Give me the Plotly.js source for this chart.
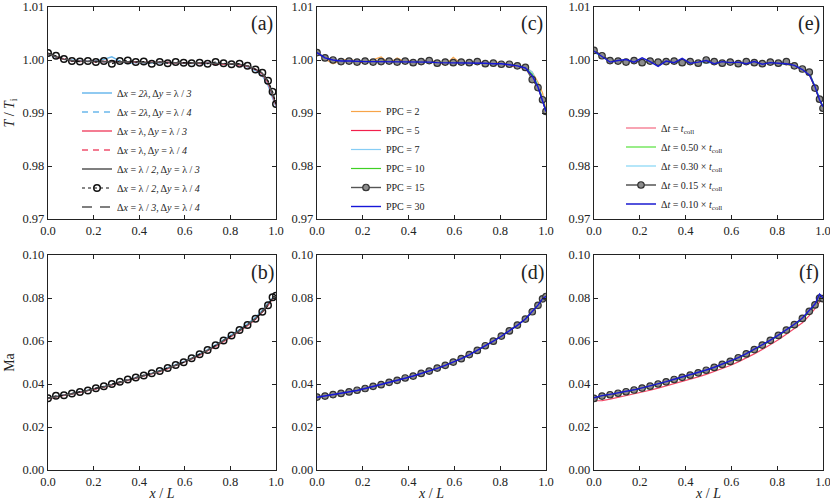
<!DOCTYPE html>
<html>
<head>
<meta charset="utf-8">
<script src="https://cdn.plot.ly/plotly-3.0.1.min.js"></script>
<style>
  html, body { margin: 0; padding: 0; background: #fff; }
  #chart { width: 830px; height: 501px; }
</style>
</head>
<body>
<div id="chart"></div>
<script>
// sample positions along the channel, x / L
const xPos = [0, 0.035, 0.07, 0.105, 0.14, 0.175, 0.21, 0.245, 0.28, 0.315, 0.35, 0.385, 0.42, 0.455, 0.49,
  0.525, 0.56, 0.595, 0.63, 0.665, 0.70, 0.735, 0.77, 0.805, 0.84, 0.875, 0.91, 0.94, 0.965, 0.985, 1.0];

// (a) T / Ti, grid resolution
const tA_2l_3 = [1.0011, 1.0005, 1.0001, 1.0000, 0.9999, 0.9998, 0.9999, 1.0001, 1.0006, 0.9998, 0.9993, 0.9995, 0.9994, 0.9994, 0.9996, 0.9994, 0.9994, 0.9995, 0.9993, 0.9993, 0.9995, 0.9993, 0.9992, 0.9992, 0.9991, 0.9987, 0.9980, 0.9970, 0.9952, 0.9928, 0.9912];
const tA_2l_4 = [1.0010, 1.0006, 1.0001, 0.9998, 0.9999, 0.9997, 0.9998, 0.9996, 0.9999, 0.9997, 0.9995, 0.9997, 0.9995, 0.9996, 0.9994, 0.9996, 0.9995, 0.9993, 0.9995, 0.9994, 0.9992, 0.9994, 0.9993, 0.9991, 0.9992, 0.9988, 0.9981, 0.9972, 0.9955, 0.9930, 0.9913];
const tA_l_3 = [1.0012, 1.0006, 1.0002, 0.9999, 0.9998, 0.9998, 0.9997, 0.9998, 0.9997, 0.9997, 0.9996, 0.9997, 0.9995, 0.9996, 0.9995, 0.9996, 0.9994, 0.9995, 0.9994, 0.9993, 0.9994, 0.9993, 0.9992, 0.9993, 0.9991, 0.9988, 0.9982, 0.9973, 0.9957, 0.9932, 0.9914];
const tA_l_4 = [1.0012, 1.0005, 1.0001, 0.9998, 0.9997, 0.9998, 0.9996, 0.9997, 0.9998, 0.9996, 0.9997, 0.9995, 0.9996, 0.9995, 0.9996, 0.9994, 0.9995, 0.9994, 0.9995, 0.9993, 0.9994, 0.9992, 0.9993, 0.9992, 0.9991, 0.9989, 0.9983, 0.9974, 0.9958, 0.9934, 0.9916];
const tA_h_3 = [1.0012, 1.0006, 1.0001, 0.9999, 0.9998, 0.9997, 0.9998, 0.9997, 0.9997, 0.9996, 0.9997, 0.9996, 0.9996, 0.9995, 0.9996, 0.9995, 0.9995, 0.9994, 0.9995, 0.9994, 0.9994, 0.9993, 0.9993, 0.9993, 0.9992, 0.9989, 0.9983, 0.9975, 0.9960, 0.9936, 0.9916];
const tA_h_4 = [1.0013, 1.0008, 1.0002, 0.9998, 0.9997, 0.9998, 0.9996, 0.9998, 0.9993, 0.9998, 0.9999, 0.9996, 0.9997, 0.9993, 0.9996, 0.9994, 0.9996, 0.9995, 0.9994, 0.9995, 0.9993, 0.9996, 0.9994, 0.9992, 0.9993, 0.9989, 0.9982, 0.9976, 0.9961, 0.9940, 0.9917];
const tA_t_4 = [1.0012, 1.0006, 1.0002, 0.9999, 0.9998, 0.9997, 0.9997, 0.9997, 0.9996, 0.9997, 0.9996, 0.9996, 0.9995, 0.9996, 0.9995, 0.9995, 0.9995, 0.9994, 0.9994, 0.9995, 0.9993, 0.9994, 0.9993, 0.9992, 0.9992, 0.9989, 0.9984, 0.9975, 0.9959, 0.9935, 0.9915];

// (b) Ma, grid resolution
const mB_2l_3 = [0.0334, 0.0343, 0.0349, 0.0355, 0.0362, 0.0370, 0.0379, 0.0388, 0.0398, 0.0408, 0.0419, 0.0428, 0.0438, 0.0450, 0.0462, 0.0475, 0.0489, 0.0504, 0.0521, 0.0540, 0.0560, 0.0582, 0.0605, 0.0628, 0.0653, 0.0680, 0.0710, 0.0743, 0.0773, 0.0801, 0.0809];
const mB_2l_4 = [0.0333, 0.0342, 0.0349, 0.0355, 0.0362, 0.0370, 0.0379, 0.0388, 0.0398, 0.0408, 0.0419, 0.0428, 0.0437, 0.0449, 0.0461, 0.0474, 0.0488, 0.0503, 0.0520, 0.0538, 0.0558, 0.0580, 0.0603, 0.0626, 0.0651, 0.0677, 0.0707, 0.0741, 0.0771, 0.0800, 0.0809];
const mB_l_3 = [0.0332, 0.0341, 0.0347, 0.0353, 0.0360, 0.0368, 0.0377, 0.0386, 0.0396, 0.0406, 0.0416, 0.0426, 0.0435, 0.0446, 0.0458, 0.0471, 0.0485, 0.0499, 0.0516, 0.0534, 0.0553, 0.0575, 0.0597, 0.0620, 0.0645, 0.0671, 0.0700, 0.0734, 0.0765, 0.0796, 0.0807];
const mB_l_4 = [0.0332, 0.0341, 0.0348, 0.0354, 0.0361, 0.0368, 0.0377, 0.0386, 0.0396, 0.0406, 0.0417, 0.0426, 0.0436, 0.0447, 0.0459, 0.0472, 0.0486, 0.0500, 0.0517, 0.0535, 0.0555, 0.0577, 0.0599, 0.0622, 0.0647, 0.0673, 0.0702, 0.0736, 0.0767, 0.0797, 0.0808];
const mB_h_3 = [0.0333, 0.0342, 0.0348, 0.0354, 0.0361, 0.0369, 0.0378, 0.0387, 0.0397, 0.0407, 0.0418, 0.0427, 0.0436, 0.0448, 0.0460, 0.0473, 0.0487, 0.0501, 0.0518, 0.0536, 0.0556, 0.0578, 0.0600, 0.0623, 0.0648, 0.0674, 0.0703, 0.0737, 0.0768, 0.0798, 0.0808];
const mB_h_4 = [0.0334, 0.0345, 0.0348, 0.0356, 0.0363, 0.0370, 0.0380, 0.0389, 0.0400, 0.0410, 0.0421, 0.0430, 0.0440, 0.0450, 0.0461, 0.0475, 0.0488, 0.0501, 0.0520, 0.0538, 0.0558, 0.0580, 0.0602, 0.0626, 0.0651, 0.0675, 0.0703, 0.0736, 0.0766, 0.0803, 0.0810];
const mB_t_4 = [0.0333, 0.0342, 0.0348, 0.0354, 0.0361, 0.0369, 0.0378, 0.0387, 0.0397, 0.0407, 0.0418, 0.0427, 0.0437, 0.0448, 0.0460, 0.0473, 0.0487, 0.0502, 0.0519, 0.0537, 0.0557, 0.0579, 0.0601, 0.0624, 0.0649, 0.0675, 0.0704, 0.0738, 0.0769, 0.0799, 0.0808];

// (c) T / Ti by particles per cell
const tC_2 = [1.0013, 1.0002, 0.9993, 0.9999, 1.0002, 0.9997, 0.9995, 1.0001, 1.0006, 0.9994, 1.0004, 0.9996, 0.9998, 0.9992, 0.9999, 0.9997, 0.9990, 1.0005, 0.9993, 0.9997, 0.9996, 0.9992, 0.9997, 0.9994, 0.9993, 0.9990, 0.9987, 0.9977, 0.9958, 0.9938, 0.9906];
const tC_5 = [1.0014, 1.0003, 0.9998, 0.9997, 1.0000, 0.9996, 0.9995, 0.9999, 0.9996, 0.9998, 0.9995, 1.0000, 0.9996, 0.9997, 1.0000, 0.9993, 0.9996, 0.9995, 0.9997, 0.9993, 0.9995, 0.9996, 0.9992, 0.9993, 0.9989, 0.9988, 0.9983, 0.9970, 0.9949, 0.9925, 0.9903];
const tC_7 = [1.0013, 1.0004, 0.9999, 0.9998, 0.9997, 0.9999, 0.9997, 0.9996, 0.9998, 0.9997, 0.9997, 0.9995, 0.9997, 0.9996, 0.9995, 0.9996, 0.9994, 0.9996, 0.9995, 0.9994, 0.9995, 0.9992, 0.9994, 0.9993, 0.9992, 0.9990, 0.9987, 0.9977, 0.9953, 0.9928, 0.9904];
const tC_10 = [1.0014, 1.0004, 1.0000, 0.9998, 0.9998, 0.9997, 0.9998, 0.9997, 0.9997, 0.9998, 0.9996, 0.9997, 0.9996, 0.9996, 0.9996, 0.9995, 0.9996, 0.9995, 0.9995, 0.9995, 0.9994, 0.9995, 0.9993, 0.9993, 0.9992, 0.9990, 0.9985, 0.9973, 0.9951, 0.9927, 0.9903];
const tC_15 = [1.0014, 1.0004, 1.0000, 0.9997, 0.9998, 0.9996, 0.9998, 0.9996, 0.9997, 0.9998, 0.9996, 0.9998, 0.9995, 0.9997, 0.9999, 0.9994, 0.9996, 0.9995, 0.9996, 0.9995, 0.9997, 0.9993, 0.9994, 0.9992, 0.9992, 0.9989, 0.9986, 0.9963, 0.9948, 0.9925, 0.9903];
const tC_30 = [1.0014, 1.0004, 1.0000, 0.9998, 0.9998, 0.9997, 0.9997, 0.9997, 0.9997, 0.9997, 0.9996, 0.9996, 0.9996, 0.9996, 0.9996, 0.9995, 0.9995, 0.9995, 0.9995, 0.9995, 0.9994, 0.9994, 0.9993, 0.9993, 0.9991, 0.9989, 0.9985, 0.9970, 0.9949, 0.9924, 0.9903];

// (d) Ma by particles per cell
const mD_2 = [0.0339, 0.0346, 0.0351, 0.0357, 0.0362, 0.0372, 0.0379, 0.0389, 0.0398, 0.0406, 0.0419, 0.0428, 0.0436, 0.0449, 0.0461, 0.0472, 0.0488, 0.0503, 0.0517, 0.0537, 0.0558, 0.0576, 0.0600, 0.0624, 0.0646, 0.0675, 0.0704, 0.0736, 0.0768, 0.0797, 0.0808];
const mD_5 = [0.0338, 0.0344, 0.0351, 0.0356, 0.0364, 0.0370, 0.0380, 0.0388, 0.0398, 0.0407, 0.0418, 0.0427, 0.0438, 0.0448, 0.0461, 0.0473, 0.0488, 0.0501, 0.0519, 0.0536, 0.0557, 0.0577, 0.0600, 0.0622, 0.0648, 0.0673, 0.0703, 0.0735, 0.0767, 0.0795, 0.0806];
const mD_7 = [0.0338, 0.0345, 0.0350, 0.0357, 0.0363, 0.0371, 0.0379, 0.0388, 0.0397, 0.0408, 0.0417, 0.0428, 0.0437, 0.0449, 0.0460, 0.0474, 0.0487, 0.0502, 0.0518, 0.0537, 0.0556, 0.0578, 0.0599, 0.0623, 0.0647, 0.0674, 0.0702, 0.0736, 0.0766, 0.0796, 0.0806];
const mD_10 = [0.0338, 0.0344, 0.0350, 0.0356, 0.0363, 0.0370, 0.0379, 0.0388, 0.0397, 0.0407, 0.0417, 0.0427, 0.0437, 0.0448, 0.0460, 0.0473, 0.0487, 0.0501, 0.0518, 0.0536, 0.0556, 0.0577, 0.0599, 0.0622, 0.0647, 0.0673, 0.0702, 0.0735, 0.0766, 0.0795, 0.0806];
const mD_15 = [0.0339, 0.0344, 0.0351, 0.0356, 0.0363, 0.0371, 0.0379, 0.0389, 0.0397, 0.0408, 0.0417, 0.0428, 0.0437, 0.0449, 0.0460, 0.0474, 0.0487, 0.0502, 0.0518, 0.0537, 0.0556, 0.0578, 0.0599, 0.0623, 0.0647, 0.0674, 0.0702, 0.0736, 0.0766, 0.0796, 0.0807];
const mD_30 = [0.0338, 0.0344, 0.0350, 0.0356, 0.0363, 0.0370, 0.0379, 0.0388, 0.0397, 0.0407, 0.0417, 0.0427, 0.0437, 0.0448, 0.0460, 0.0473, 0.0487, 0.0501, 0.0518, 0.0536, 0.0556, 0.0577, 0.0599, 0.0622, 0.0647, 0.0673, 0.0702, 0.0736, 0.0767, 0.0797, 0.0808];

// (e) T / Ti by time step
const tE_100 = [1.0016, 1.0006, 1.0000, 0.9997, 0.9998, 0.9997, 0.9997, 0.9997, 0.9996, 0.9997, 0.9996, 0.9996, 0.9995, 0.9996, 0.9995, 0.9995, 0.9995, 0.9995, 0.9995, 0.9994, 0.9994, 0.9994, 0.9993, 0.9993, 0.9992, 0.9988, 0.9982, 0.9973, 0.9948, 0.9926, 0.9910];
const tE_050 = [1.0016, 1.0005, 1.0000, 0.9998, 0.9997, 0.9998, 0.9997, 0.9996, 0.9997, 0.9996, 0.9996, 0.9995, 0.9996, 0.9995, 0.9996, 0.9995, 0.9994, 0.9995, 0.9994, 0.9995, 0.9994, 0.9993, 0.9994, 0.9993, 0.9992, 0.9989, 0.9983, 0.9975, 0.9949, 0.9927, 0.9911];
const tE_030 = [1.0015, 1.0006, 0.9999, 0.9997, 0.9999, 0.9997, 0.9998, 0.9996, 0.9996, 0.9997, 0.9995, 0.9997, 0.9995, 0.9996, 0.9994, 0.9996, 0.9995, 0.9994, 0.9995, 0.9994, 0.9993, 0.9995, 0.9993, 0.9992, 0.9993, 0.9990, 0.9984, 0.9976, 0.9951, 0.9929, 0.9911];
const tE_015 = [1.0018, 1.0008, 0.9999, 0.9998, 0.9996, 0.9999, 0.9995, 0.9998, 0.9996, 0.9997, 0.9998, 0.9995, 0.9997, 0.9994, 1.0000, 0.9997, 0.9994, 0.9996, 0.9993, 0.9997, 0.9995, 0.9993, 0.9996, 0.9994, 0.9997, 0.9989, 0.9983, 0.9977, 0.9947, 0.9926, 0.9909];
const tE_010 = [1.0017, 1.0006, 0.9996, 0.9999, 1.0001, 0.9996, 1.0004, 0.9997, 0.9988, 0.9998, 0.9995, 1.0003, 0.9994, 0.9996, 0.9999, 0.9993, 0.9997, 0.9995, 0.9996, 0.9993, 0.9997, 0.9992, 0.9995, 0.9994, 0.9993, 0.9990, 0.9982, 0.9972, 0.9950, 0.9925, 0.9912];

// (f) Ma by time step
const mF_100 = [0.0322, 0.0323, 0.0330, 0.0338, 0.0345, 0.0353, 0.0362, 0.0371, 0.0381, 0.0391, 0.0402, 0.0412, 0.0422, 0.0433, 0.0445, 0.0458, 0.0472, 0.0486, 0.0503, 0.0521, 0.0540, 0.0561, 0.0583, 0.0606, 0.0631, 0.0656, 0.0685, 0.0718, 0.0750, 0.0782, 0.0790];
const mF_050 = [0.0334, 0.0342, 0.0348, 0.0354, 0.0361, 0.0369, 0.0378, 0.0387, 0.0397, 0.0407, 0.0418, 0.0428, 0.0438, 0.0449, 0.0461, 0.0474, 0.0488, 0.0502, 0.0519, 0.0537, 0.0557, 0.0578, 0.0600, 0.0623, 0.0648, 0.0673, 0.0702, 0.0735, 0.0766, 0.0800, 0.0798];
const mF_030 = [0.0335, 0.0345, 0.0351, 0.0357, 0.0364, 0.0372, 0.0381, 0.0390, 0.0400, 0.0410, 0.0421, 0.0431, 0.0441, 0.0452, 0.0464, 0.0477, 0.0491, 0.0505, 0.0522, 0.0540, 0.0560, 0.0581, 0.0603, 0.0626, 0.0651, 0.0677, 0.0706, 0.0740, 0.0771, 0.0812, 0.0803];
const mF_015 = [0.0333, 0.0344, 0.0350, 0.0357, 0.0364, 0.0372, 0.0381, 0.0390, 0.0400, 0.0410, 0.0421, 0.0431, 0.0441, 0.0452, 0.0464, 0.0477, 0.0491, 0.0505, 0.0522, 0.0540, 0.0560, 0.0581, 0.0603, 0.0626, 0.0651, 0.0676, 0.0705, 0.0738, 0.0768, 0.0800, 0.0797];
const mF_010 = [0.0336, 0.0346, 0.0352, 0.0358, 0.0365, 0.0373, 0.0382, 0.0391, 0.0401, 0.0411, 0.0422, 0.0432, 0.0442, 0.0453, 0.0465, 0.0478, 0.0492, 0.0506, 0.0523, 0.0541, 0.0561, 0.0582, 0.0604, 0.0627, 0.0652, 0.0678, 0.0707, 0.0741, 0.0772, 0.0818, 0.0800];

const namesA = [
  'Δ<i>x</i> = <i>2λ</i>, Δ<i>y</i> = λ / <i>3</i>',
  'Δ<i>x</i> = <i>2λ</i>, Δ<i>y</i> = λ / <i>4</i>',
  'Δ<i>x</i> = λ, Δ<i>y</i> = λ / <i>3</i>',
  'Δ<i>x</i> = λ, Δ<i>y</i> = λ / <i>4</i>',
  'Δ<i>x</i> = λ / <i>2</i>, Δ<i>y</i> = λ / <i>3</i>',
  'Δ<i>x</i> = λ / <i>2</i>, Δ<i>y</i> = λ / <i>4</i>',
  'Δ<i>x</i> = λ / <i>3</i>, Δ<i>y</i> = λ / <i>4</i>'
];
const namesC = ['PPC = 2', 'PPC = 5', 'PPC = 7', 'PPC = 10', 'PPC = 15', 'PPC = 30'];
const namesE = [
  'Δ<i>t</i> = <i>t</i><sub>coll</sub>',
  'Δ<i>t</i> = 0.50 × <i>t</i><sub>coll</sub>',
  'Δ<i>t</i> = 0.30 × <i>t</i><sub>coll</sub>',
  'Δ<i>t</i> = 0.15 × <i>t</i><sub>coll</sub>',
  'Δ<i>t</i> = 0.10 × <i>t</i><sub>coll</sub>'
];

const SERIF = 'Times New Roman, Liberation Serif, serif';
const openCircle = {symbol: 'circle-open', size: 6.5, color: '#111', line: {width: 1.5}};
const grayCircle = {symbol: 'circle', size: 6.5, color: '#8c8c8c', line: {color: '#333', width: 1.2}};

const stylesA = [
  {line: {color: '#6bb8ec', width: 1.3}},
  {line: {color: '#6bb8ec', width: 1.3, dash: '6px,5px'}},
  {line: {color: '#f0506e', width: 1.3}},
  {line: {color: '#f0506e', width: 1.3, dash: '6px,5px'}},
  {line: {color: '#555555', width: 1.3}},
  {line: {color: '#111111', width: 1.2, dash: 'dot'}, marker: openCircle, mode: 'lines+markers'},
  {line: {color: '#555555', width: 1.3, dash: '10px,8px'}}
];
const stylesC = [
  {line: {color: '#f7a448', width: 1.2}},
  {line: {color: '#f2204c', width: 1.2}},
  {line: {color: '#86cdf5', width: 1.2}},
  {line: {color: '#3fd024', width: 1.2}},
  {line: {color: '#555555', width: 1.4}, marker: grayCircle, mode: 'lines+markers'},
  {line: {color: '#1616d8', width: 1.4}}
];
const stylesE = [
  {line: {color: '#f24a68', width: 1.2}},
  {line: {color: '#35dc14', width: 1.2}},
  {line: {color: '#6ccdf3', width: 1.2}},
  {line: {color: '#555555', width: 1.4}, marker: grayCircle, mode: 'lines+markers'},
  {line: {color: '#1a1ad0', width: 1.4}}
];

let traces = [];
function addGroup(series, names, styles, xa, ya, legendId, withLegend) {
  series.forEach((ys, i) => {
    traces.push(Object.assign({
      type: 'scatter',
      mode: 'lines',
      x: xPos,
      y: ys,
      name: names[i],
      xaxis: xa,
      yaxis: ya,
      legend: legendId,
      showlegend: withLegend,
      hoverinfo: 'skip'
    }, styles[i]));
  });
}

addGroup([tA_2l_3, tA_2l_4, tA_l_3, tA_l_4, tA_h_3, tA_h_4, tA_t_4], namesA, stylesA, 'x', 'y', 'legend', true);
addGroup([mB_2l_3, mB_2l_4, mB_l_3, mB_l_4, mB_h_3, mB_h_4, mB_t_4], namesA, stylesA, 'x2', 'y2', 'legend', false);
addGroup([tC_2, tC_5, tC_7, tC_10, tC_15, tC_30], namesC, stylesC, 'x3', 'y3', 'legend2', true);
addGroup([mD_2, mD_5, mD_7, mD_10, mD_15, mD_30], namesC, stylesC, 'x4', 'y4', 'legend2', false);
addGroup([tE_100, tE_050, tE_030, tE_015, tE_010], namesE, stylesE, 'x5', 'y5', 'legend3', true);
addGroup([mF_100, mF_050, mF_030, mF_015, mF_010], namesE, stylesE, 'x6', 'y6', 'legend3', false);

// column / row placement in paper units
const W = 830, H = 501;
const cols = [[48 / W, 276 / W], [317 / W, 546 / W], [594 / W, 823 / W]];
const rowTop = [1 - 219 / H, 1 - 7 / H];
const rowBot = [1 - 470 / H, 1 - 255 / H];

function xAxis(col, bottom) {
  let ax = {
    domain: cols[col],
    range: [0, 1],
    tickvals: [0, 0.2, 0.4, 0.6, 0.8, 1.0],
    tickformat: '.1f',
    ticks: 'inside', ticklen: 4, tickwidth: 1, tickcolor: '#222',
    showline: true, linecolor: '#222', linewidth: 1.2, mirror: 'ticks',
    showgrid: false, zeroline: false,
    ticklabeloverflow: 'allow',
    tickfont: {family: SERIF, size: 12.5, color: '#222'},
    anchor: bottom ? 'y' + (col * 2 + 2) : (col === 0 ? 'y' : 'y' + (col * 2 + 1))
  };
  if (bottom) {
    ax.title = {text: '<i>x</i> / <i>L</i>', font: {family: SERIF, size: 14, color: '#222'}, standoff: 2};
  }
  return ax;
}

function yAxis(col, bottom) {
  let ax = {
    domain: bottom ? rowBot : rowTop,
    range: bottom ? [0, 0.1] : [0.97, 1.01],
    tickvals: bottom ? [0, 0.02, 0.04, 0.06, 0.08, 0.10] : [0.97, 0.98, 0.99, 1.00, 1.01],
    tickformat: '.2f',
    ticks: 'inside', ticklen: 4, tickwidth: 1, tickcolor: '#222',
    showline: true, linecolor: '#222', linewidth: 1.2, mirror: 'ticks',
    showgrid: false, zeroline: false,
    ticklabeloverflow: 'allow',
    tickfont: {family: SERIF, size: 12.5, color: '#222'},
    anchor: bottom ? 'x' + (col * 2 + 2) : (col === 0 ? 'x' : 'x' + (col * 2 + 1))
  };
  if (col === 0) {
    ax.title = {
      text: bottom ? 'Ma' : '<i>T</i> / <i>T</i><sub>i</sub>',
      font: {family: SERIF, size: 14, color: '#222'},
      standoff: 4
    };
  }
  return ax;
}

const legendBase = {
  bgcolor: 'rgba(0,0,0,0)',
  borderwidth: 0,
  font: {family: SERIF, size: 10, color: '#222'},
  xanchor: 'left',
  yanchor: 'middle',
  tracegroupgap: 0,
  itemclick: false
};

const panelLabels = ['(a)', '(b)', '(c)', '(d)', '(e)', '(f)'];
const labelAxes = [['x', 'y'], ['x2', 'y2'], ['x3', 'y3'], ['x4', 'y4'], ['x5', 'y5'], ['x6', 'y6']];
const annotations = panelLabels.map((t, i) => ({
  text: t,
  xref: labelAxes[i][0] + ' domain',
  yref: labelAxes[i][1] + ' domain',
  x: 0.94, y: 0.92,
  xanchor: 'center', yanchor: 'middle',
  showarrow: false,
  font: {family: SERIF, size: 20, color: '#222'}
}));

const layout = {
  width: W,
  height: H,
  margin: {l: 0, r: 0, t: 0, b: 0},
  paper_bgcolor: '#fff',
  plot_bgcolor: '#fff',
  showlegend: true,
  xaxis: xAxis(0, false), yaxis: yAxis(0, false),
  xaxis2: xAxis(0, true), yaxis2: yAxis(0, true),
  xaxis3: xAxis(1, false), yaxis3: yAxis(1, false),
  xaxis4: xAxis(1, true), yaxis4: yAxis(1, true),
  xaxis5: xAxis(2, false), yaxis5: yAxis(2, false),
  xaxis6: xAxis(2, true), yaxis6: yAxis(2, true),
  legend: Object.assign({}, legendBase, {x: 77 / W, y: 1 - 150 / H}),
  legend2: Object.assign({}, legendBase, {x: 346 / W, y: 1 - 159 / H}),
  legend3: Object.assign({}, legendBase, {x: 621 / W, y: 1 - 166 / H}),
  annotations: annotations
};

Plotly.newPlot('chart', traces, layout, {staticPlot: true});
</script>
</body>
</html>
